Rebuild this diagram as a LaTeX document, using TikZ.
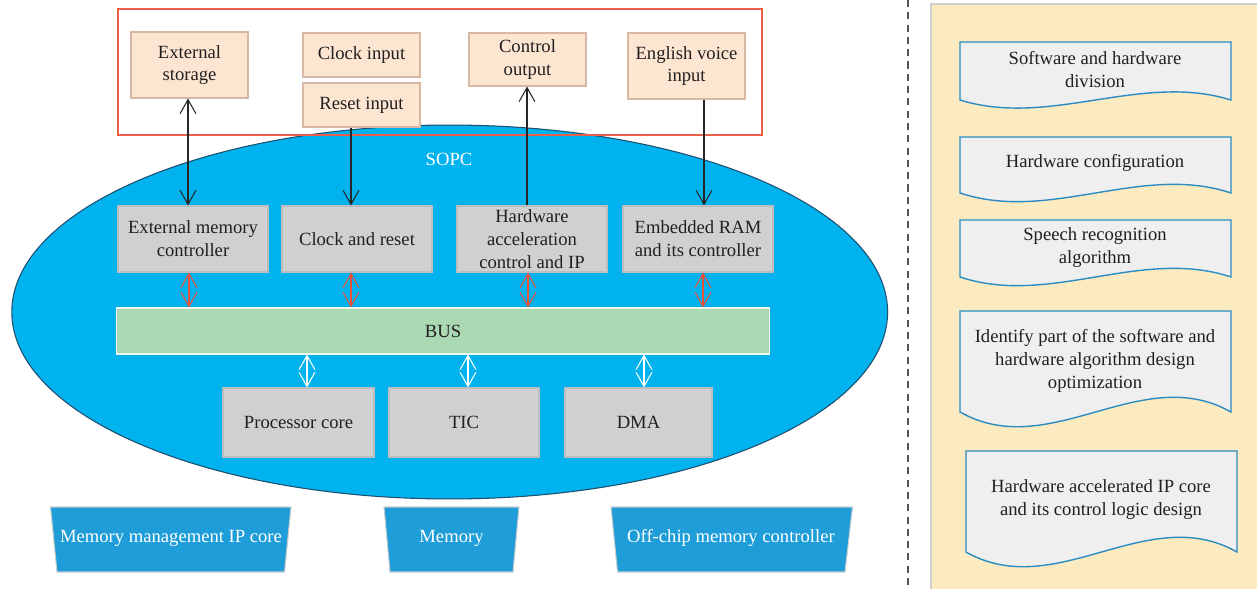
\documentclass[tikz,border=0pt]{standalone}
\usepackage{fontspec}
\setmainfont{Liberation Serif}
\usetikzlibrary{arrows.meta,calc}
\definecolor{redbox}{HTML}{E8604C}
\definecolor{peach}{HTML}{FCE6D2}
\definecolor{peachb}{HTML}{D8B8A2}
\definecolor{sopcf}{HTML}{00B2EE}
\definecolor{sopcb}{HTML}{1F4E6E}
\definecolor{grayf}{HTML}{D0D0D2}
\definecolor{grayb}{HTML}{BDBDBF}
\definecolor{busf}{HTML}{AAD9B4}
\definecolor{arrred}{HTML}{E8503A}
\definecolor{trapf}{HTML}{1E9DD8}
\definecolor{trapb}{HTML}{C8CCD0}
\definecolor{panelf}{HTML}{FCEBC0}
\definecolor{panelb}{HTML}{CFCFCF}
\definecolor{docf}{HTML}{EFEFEF}
\definecolor{docb}{HTML}{2B8CC4}
\definecolor{txt}{HTML}{231F20}
\definecolor{dashc}{HTML}{555555}
\begin{document}
\begin{tikzpicture}[x=0.02cm,y=-0.02cm,
  font=\fontsize{10.6}{13}\selectfont, text=txt,
  base/.style={inner sep=0pt, align=center, line width=0.6pt},
  peachbox/.style={base, fill=peach, draw=peachb, minimum width=2.34cm},
  graybox/.style={base, fill=grayf, draw=grayb, minimum height=1.32cm},
  busbox/.style={base, fill=busf, draw=white!85!busf},
  trapst/.style={fill=trapf, draw=trapb, line width=0.6pt},
  traptext/.style={text=white, inner sep=0pt},
  docst/.style={fill=docf, draw=docb, line width=0.8pt},
  doctext/.style={inner sep=0pt, align=center},
  blk/.style={draw=black!85, line width=0.6pt},
  barb/.tip={Straight Barb[length=8pt,width=9pt,line width=0.6pt]},
  redarr/.style={draw=arrred, line width=0.6pt, barb-barb},
  whitearr/.style={draw=white, line width=0.6pt, barb-barb},
]
\useasboundingbox (0,0) rectangle (1257,588);

% SOPC ellipse
\draw[fill=sopcf, draw=sopcb, line width=0.6pt] (449.7,312) ellipse [x radius=8.76cm, y radius=3.74cm];
\node[text=white] (sopc) at (449,159) {SOPC};

% red frame
\draw[redbox, line width=0.7pt] (118,9) rectangle (762,135);

% top peach boxes
\node[peachbox, minimum height=1.32cm] (extst) at (189.5,65) {External\\storage};
\node[peachbox, minimum height=0.88cm] (clkin) at (361.5,55) {Clock input};
\node[peachbox, minimum height=0.88cm] (rstin) at (361.5,105) {Reset input};
\node[peachbox, minimum height=1.06cm] (ctrlout) at (527.5,59.5) {Control\\output};
\node[peachbox, minimum height=1.32cm] (engin) at (686.5,66) {English voice\\input};

% gray boxes
\node[graybox, minimum width=3cm] (emc) at (193,239) {External memory\\controller};
\node[graybox, minimum width=3cm] (clkrst) at (357,239) {Clock and reset};
\node[graybox, minimum width=3cm] (hwacc) at (532,239) {Hardware\\acceleration\\control and IP};
\node[graybox, minimum width=3cm] (eram) at (698,239) {Embedded RAM\\and its controller};

\node[busbox, minimum width=13.08cm, minimum height=0.92cm] (bus) at (443,331) {BUS};

\node[graybox, minimum width=3.02cm, minimum height=1.38cm] (proc) at (298.5,422.5) {Processor core};
\node[graybox, minimum width=3cm, minimum height=1.38cm] (tic) at (464,422.5) {TIC};
\node[graybox, minimum width=2.94cm, minimum height=1.38cm] (dma) at (638.5,422.5) {DMA};

% arrow columns
\coordinate (a1) at (188,0);
\coordinate (a2) at (351,0);
\coordinate (a3) at (527,0);
\coordinate (a4) at (704,0);
\coordinate (r1) at (189,0);
\coordinate (r2) at (351,0);
\coordinate (r3) at (528,0);
\coordinate (r4) at (703,0);
\coordinate (w1) at (307,0);
\coordinate (w2) at (468,0);
\coordinate (w3) at (644,0);

\draw[blk, barb-barb] (extst.south -| a1) -- (emc.north -| a1);
\draw[blk, -barb] (rstin.south -| a2) -- (clkrst.north -| a2);
\draw[blk, -barb] (hwacc.north -| a3) -- (ctrlout.south -| a3);
\draw[blk, -barb] (engin.south -| a4) -- (eram.north -| a4);

\draw[redarr] (emc.south -| r1) -- (bus.north -| r1);
\draw[redarr] (clkrst.south -| r2) -- (bus.north -| r2);
\draw[redarr] (hwacc.south -| r3) -- (bus.north -| r3);
\draw[redarr] (eram.south -| r4) -- (bus.north -| r4);

\draw[whitearr] (bus.south -| w1) -- (proc.north -| w1);
\draw[whitearr] (bus.south -| w2) -- (tic.north -| w2);
\draw[whitearr] (bus.south -| w3) -- (dma.north -| w3);

% bottom trapezoids
\draw[trapst] (50.5,507) -- (291,507) -- (284.5,572) -- (57,572) -- cycle;
\node[traptext] (mmip) at (171,538) {Memory management IP core};
\draw[trapst] (384,507) -- (519,507) -- (513,572) -- (390,572) -- cycle;
\node[traptext] (mem) at (451.5,538) {Memory};
\draw[trapst] (611,507) -- (852.5,507) -- (845,572) -- (617.5,572) -- cycle;
\node[traptext] (offchip) at (731,538) {Off-chip memory controller};

% separator
\draw[dashc, line width=0.7pt, dash pattern=on 4pt off 3pt] (908,0) -- (908,588);

% right panel
\draw[fill=panelf, draw=panelb, line width=0.6pt] (931,4) rectangle (1262,594);

% documents
\draw[docst] (960,42) -- (1231,42) -- (1231,100) .. controls (1141,72) and (1050,128) .. (960,100) -- cycle;
\node[doctext] (d1) at (1095,69.5) {Software and hardware\\division};
\draw[docst] (960,137) -- (1231,137) -- (1231,193) .. controls (1141,163) and (1050,223) .. (960,193) -- cycle;
\node[doctext] (d2) at (1095,163) {Hardware configuration};
\draw[docst] (960,220) -- (1231,220) -- (1231,277) .. controls (1141,247) and (1050,307) .. (960,277) -- cycle;
\node[doctext] (d3) at (1095,247.5) {Speech recognition\\algorithm};
\draw[docst] (960,311) -- (1231,311) -- (1231,412) .. controls (1141,361) and (1050,463) .. (960,412) -- cycle;
\node[doctext] (d4) at (1095,361) {Identify part of the software and\\hardware algorithm design\\optimization};
\draw[docst] (966,451) -- (1237,451) -- (1237,552) .. controls (1147,501) and (1056,603) .. (966,552) -- cycle;
\node[doctext] (d5) at (1101,499.5) {Hardware accelerated IP core\\and its control logic design};
\end{tikzpicture}
\end{document}
